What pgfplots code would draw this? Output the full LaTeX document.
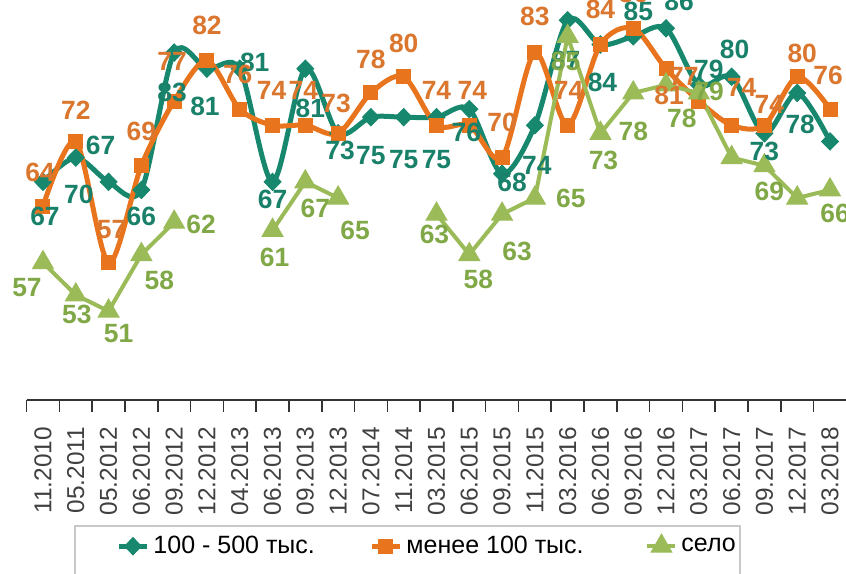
\documentclass[border=0pt]{standalone}
\usepackage{fontspec}
\setmainfont{Liberation Sans}
\usepackage{pgfplots}
\usepackage{pgfplotstable}
\pgfplotsset{compat=1.18}
\definecolor{cteal}{RGB}{23,135,110}
\definecolor{corange}{RGB}{232,116,30}
\definecolor{cgreen}{RGB}{155,187,89}
\definecolor{lteal}{RGB}{25,128,105}
\definecolor{lorange}{RGB}{218,118,45}
\definecolor{lgreen}{RGB}{128,168,70}
\definecolor{lgrid}{RGB}{200,200,200}

\pgfplotstableread{
x y dx dy op
0 67 2 -35 1
1 70 3 -37 1
2 67 -8 36 1
3 66 0 -26 1
4 83 -2 -40 1
5 81 -2 -38 1
6 81 15 6 1
7 67 0 -18 1
8 81 5 -40 1
9 73 2 -17 1
10 75 0 -38 1
11 75 0 -42 1
12 75 0 -42 1
13 76 -3 -23 1
14 68 10 -9 1
15 74 2 -40 1
16 87 -2 -40 1
17 84 2 -38 1
18 85 5 25 1
19 86 13 27 1
20 79 10 15 1
21 80 3 27 1
22 73 0 -18 1
23 78 3 -31 1
24 72 46 0 1
}\tealT

\pgfplotstableread{
x y dx dy op
0 64 -3 34 1
1 72 0 31 1
2 57 3 33 1
3 69 0 34 1
4 77 -2 40 1
5 82 0 35 1
6 76 -2 35 1
7 74 -1 35 1
8 74 -2 35 1
9 73 -2 30 1
10 78 0 34 1
11 80 0 33 1
12 74 0 35 1
13 74 3 35 1
14 70 0 35 1
15 83 0 36 1
16 74 1 35 1
17 84 0 35 1
18 86 0 35 1
19 81 3 -27 1
20 77 -15 25 1
21 74 10 38 1
22 74 5 21 1
23 80 5 23 1
24 76 -2 34 1
}\orangeT

\pgfplotstableread{
x y dx dy op
0 57 -16 -25 1
1 53 1 -19 1
2 51 10 -22 1
3 58 18 -26 1
4 62 27 -2 1
5 nan 0 0 0
6 nan 0 0 0
7 61 2 -27 1
8 67 10 -27 1
9 65 17 -32 1
10 nan 0 0 0
11 nan 0 0 0
12 63 -2 -20 1
13 58 9 -25 1
14 63 15 -37 1
15 65 36 0 1
16 85 -2 -25 1
17 73 3 -27 1
18 78 0 -38 1
19 79 43 -7 1
20 78 -17 -25 1
21 70 0 0 0
22 69 5 -26 1
23 65 0 0 0
24 66 5 -23 1
}\greenT

\pgfplotsset{
  lbl/.style={only marks, mark=*, mark size=0pt, forget plot,
    nodes near coords, point meta=y,
    /pgf/number format/assume math mode=true,
    visualization depends on={\thisrow{dx}\as\ldx},
    visualization depends on={\thisrow{dy}\as\ldy},
    visualization depends on={\thisrow{op}\as\lop},
    every node near coord/.append style={anchor=center, inner sep=0pt,
      xshift=\ldx*0.5pt, yshift=\ldy*0.5pt, opacity=\lop,
      font=\bfseries\fontsize{13.2}{15}\selectfont, text=#1}},
  tealleg/.style={legend image code/.code={\path[draw=none,fill=none] (-22pt,-12pt) rectangle (0pt,0pt);
    \draw[mark repeat=2,mark phase=2,##1] plot coordinates {(0pt,0pt) (7pt,0pt) (14pt,0pt)};}},
  stdleg/.style={legend image code/.code={%
    \draw[mark repeat=2,mark phase=2,##1] plot coordinates {(0pt,0pt) (7pt,0pt) (14pt,0pt)};}},
}

\begin{document}
\begin{tikzpicture}
\begin{axis}[
  at={(13.3pt,86.5pt)}, anchor=south west,
  scale only axis, width=409.9pt, height=202pt,
  xmin=-0.5, xmax=24.5, ymin=40, ymax=90,
  axis x line*=bottom, hide y axis,
  xtick={0,...,24},
  xticklabels={11.2010,05.2011,05.2012,06.2012,09.2012,12.2012,04.2013,06.2013,09.2013,12.2013,07.2014,11.2014,03.2015,06.2015,09.2015,11.2015,03.2016,06.2016,09.2016,12.2016,03.2017,06.2017,09.2017,12.2017,03.2018},
  major tick length=0pt,
  minor xtick={-0.5,0.5,...,24.5},
  minor tick length=6pt,
  tick align=outside,
  x axis line style={black!80, line width=0.8pt},
  minor tick style={black!80, line width=0.8pt},
  xticklabel style={rotate=90, anchor=east, font=\fontsize{12.2}{14}\selectfont, text=black!75},
  xticklabel shift=10pt,
  unbounded coords=jump,
  clip=false,
  legend columns=3,
  legend style={at={(0.0578,-0.3094)}, anchor=north west, draw=lgrid, line width=1pt,
    inner xsep=0pt, inner ysep=3pt, font=\fontsize{12.5}{14}\selectfont, cells={anchor=west}},
]
\addplot[color=cteal, line width=2.5pt, smooth, mark=diamond*, mark size=4.3pt,
  mark options={solid, line width=0.5pt, xscale=1.3}, tealleg]
  table[x=x,y=y] {\tealT};
\addlegendentry{\makebox[106pt][l]{100 - 500 тыс.}}
\addplot[color=corange, line width=2.5pt, smooth, mark=square*, mark size=3.5pt,
  mark options={solid, line width=0.5pt}, stdleg]
  table[x=x,y=y] {\orangeT};
\addlegendentry{\makebox[117.5pt][l]{менее 100 тыс.}}
\addplot[color=cgreen, line width=2pt, mark=triangle*, mark size=6pt,
  mark options={solid, line width=0.5pt}, stdleg]
  table[x=x,y=y] {\greenT};
\addlegendentry{село}
\addplot[lbl=lteal] table[x=x,y=y] {\tealT};
\addplot[lbl=lorange] table[x=x,y=y] {\orangeT};
\addplot[lbl=lgreen] table[x=x,y=y] {\greenT};
\end{axis}
\pgfresetboundingbox
\useasboundingbox (0,0) rectangle (423pt,286.5pt);
\end{tikzpicture}
\end{document}
